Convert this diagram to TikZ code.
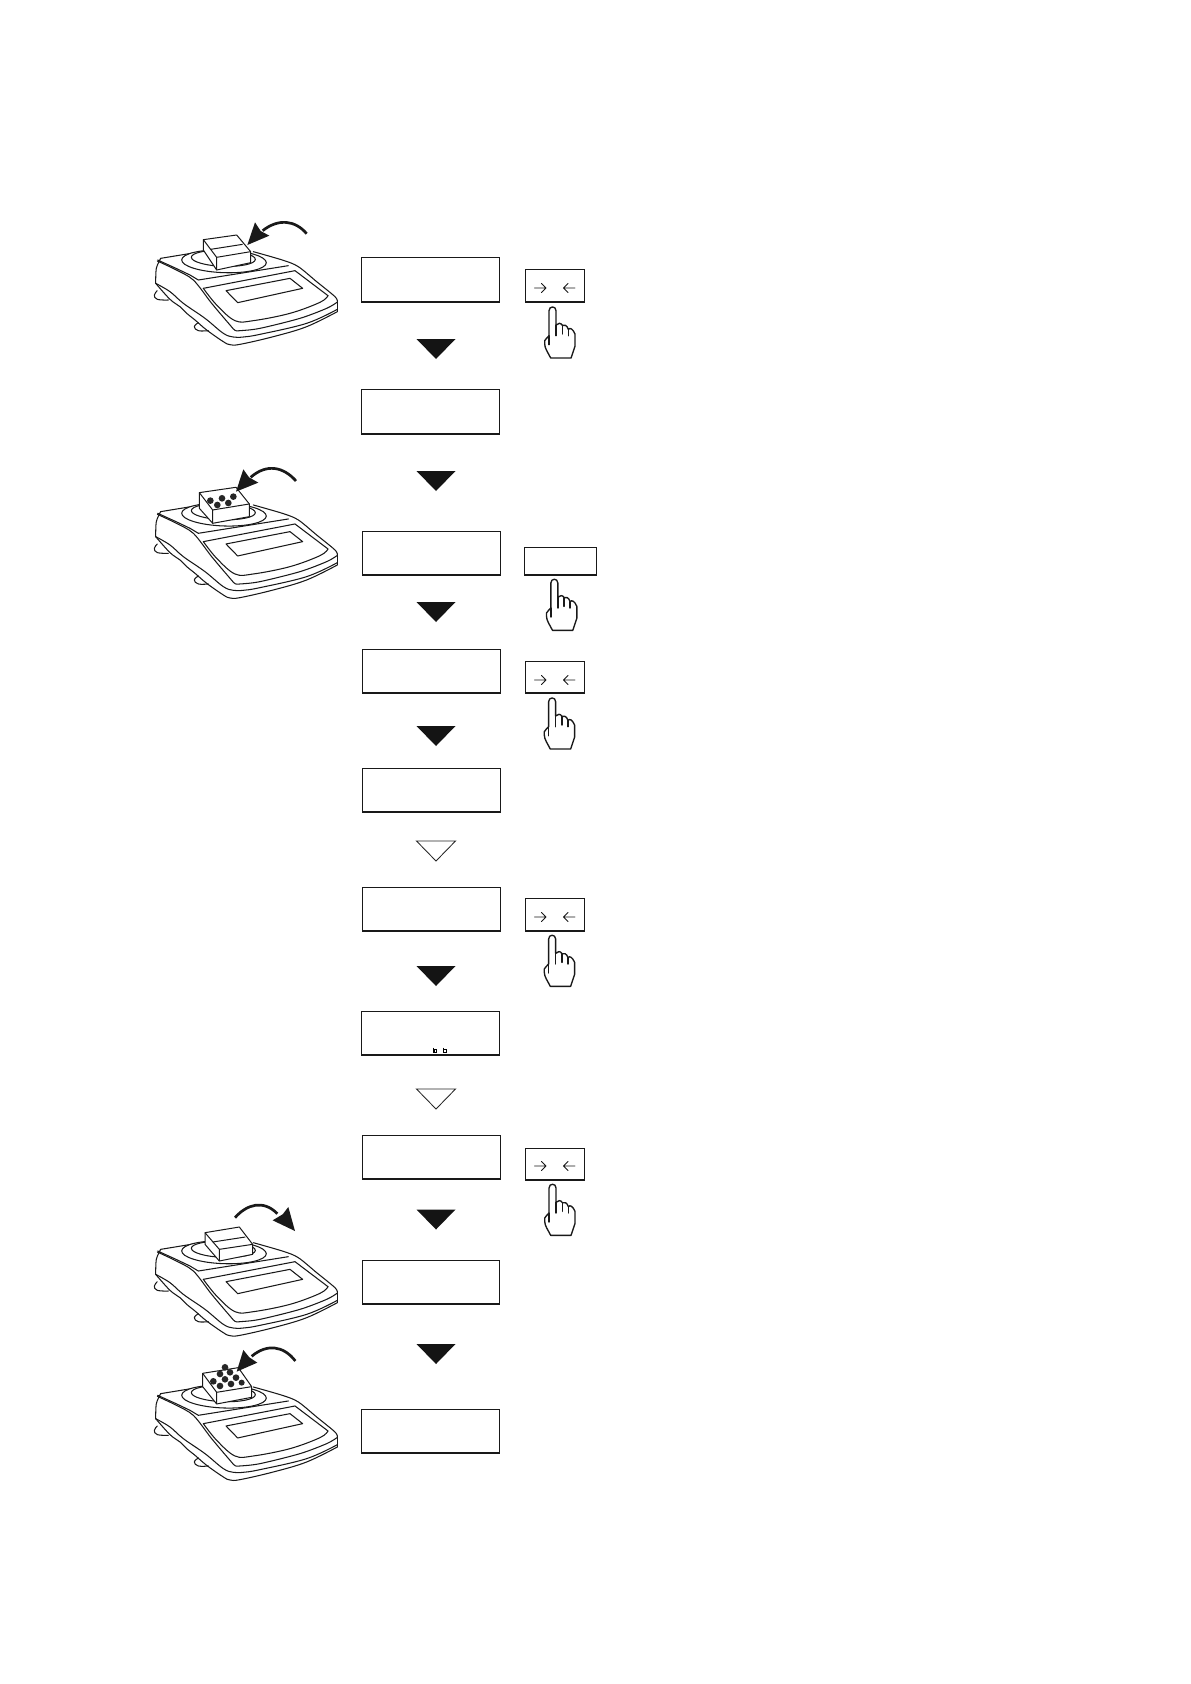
\documentclass[tikz,border=0pt]{standalone}
\tikzset{
  disp/.style={draw=black!90,line width=1.1pt,fill=white,inner sep=0pt,minimum width=137.9pt,minimum height=43.9pt},
  keybox/.style={draw=black!90,line width=1.1pt,fill=white,inner sep=0pt},
  body/.style={draw=black!90,line width=1.05pt,line join=round,line cap=round},
  boxline/.style={draw=black!90,line width=1pt,fill=white,line join=round},
  solidtri/.style={fill=black!92,draw=none},
  opentri/.style={draw=black!85,line width=0.85pt,fill=white},
  handline/.style={draw=black!90,line width=1.35pt,line join=round,line cap=round,fill=white},
  keyarrow/.style={draw=black!90,line width=0.95pt,line cap=round,line join=round},
  curvearrow/.style={draw=black!90,line width=2.7pt,line cap=butt},
  ball/.style={fill=black!85,draw=none}
}
\newcommand{\BalanceAt}[1]{%
\begin{scope}[shift={(140,#1)},x=0.33333pt,y=-0.33333pt]
  % feet
  \draw[body] plot[smooth,tension=0.7] coordinates {(52,272)(43,285)(52,298)(85,300)};
  \draw[body] plot[smooth,tension=0.7] coordinates {(175,368)(163,380)(175,392)(205,392)};
  % outline
  \draw[body] plot[smooth,tension=0.5] coordinates {(47,250)(49,205)(62,175)};
  \draw[body] (62,175) -- (190,154);
  \draw[body] plot[smooth,tension=0.5] coordinates {(340,155)(430,181)(475,200)(530,245)(585,290)(592,305)};
  \draw[body] (592,305) -- (592,335);
  \draw[body] plot[smooth,tension=0.6] coordinates {(592,335)(500,380)(400,410)(300,433)(270,434)(250,425)(200,390)(165,360)(140,340)(120,320)(90,298)(47,250)};
  % side lines
  \draw[body] plot[smooth,tension=0.6] coordinates {(47,250)(90,275)(130,310)(195,355)(250,400)(280,411)(310,411)(360,403)(500,370)(592,328)};
  \draw[body] plot[smooth,tension=0.5] coordinates {(52,183)(105,208)(160,240)(215,310)(270,375)(285,391)(300,392)(360,385)(480,355)(560,325)(591,307)};
  \draw[body] (53,180) -- (108,205) -- (150,225) -- (175,240) -- (445,197);
  % panel
  \draw[body] (190,265) -- (465,212) -- (564,287);
  \draw[body] plot[smooth,tension=0.6] coordinates {(190,265)(230,315)(285,362)(340,362)(450,340)(540,307)(564,287)};
  % window
  \draw[body] (258,272) -- (450,235) -- (488,265) -- (293,308) -- cycle;
  % pan
  \draw[body,fill=white,rotate around={-2:(252,184)}] (252,184) ellipse [x radius=127,y radius=34];
  \draw[body,rotate around={-2:(250,175)}] (250,175) ellipse [x radius=96,y radius=24];
\end{scope}}
\newcommand{\HandAt}[2]{%
\begin{scope}[shift={(#1,#2)},x=0.33333pt,y=-0.33333pt]
  \draw[handline] (-11,87) -- (-11,12) .. controls (-11,-3) and (10,-3) .. (10,12) -- (10,55)
    .. controls (16,49) and (24,47) .. (29,56)
    .. controls (34,53) and (43,55) .. (47,68)
    .. controls (52,62) and (60,66) .. (67,82) -- (67,118) -- (55,154) -- (-6,154)
    .. controls (-14,138) and (-24,125) .. (-24,112) -- (-24,102) .. controls (-22,97) and (-15,92) .. (-11,87) -- cycle;
  \draw[handline,fill=none] (-11,87) -- (-11,114);
  \draw[handline,fill=none] (10,55) -- (10,87);
  \draw[handline,fill=none] (29,56) -- (29,82);
  \draw[handline,fill=none] (47,68) -- (47,87);
\end{scope}}
\newcommand{\KeyArrows}[1]{%
  \draw[keyarrow] (534.5,#1) -- (546,#1) (541.5,#1-4.5) -- (546,#1) -- (541.5,#1+4.5);
  \draw[keyarrow] (575,#1) -- (563.5,#1) (568,#1-4.5) -- (563.5,#1) -- (568,#1+4.5);}
\newcommand{\SolidTri}[1]{\fill[solidtri] (416.5,#1) -- (455.5,#1) -- (436,#1+20) -- cycle;}
\newcommand{\OpenTri}[1]{\draw[opentri] (416.5,#1) -- (455.5,#1) -- (436,#1+20) -- cycle;}
\begin{document}
\begin{tikzpicture}[x=1pt,y=-1pt]
\useasboundingbox (0,0) rectangle (1191,1684);
\fill[white] (0,0) rectangle (1191,1684);

% displays
\node[disp,minimum height=44.9pt] (d1) at (430.5,279.5) {};
\node[disp,minimum height=44.9pt] (d2) at (430.5,411.5) {};
\node[disp] (d3) at (431.5,553) {};
\node[disp] (d4) at (431.5,671) {};
\node[disp] (d5) at (431.5,790) {};
\node[disp] (d6) at (431.5,909) {};
\node[disp] (d7) at (430.5,1033) {};
\node[disp] (d8) at (431.5,1157) {};
\node[disp,minimum width=136.9pt] (d9) at (431,1282) {};
\node[disp] (d10) at (430.5,1431) {};

% flow triangles
\SolidTri{339}
\SolidTri{471}
\SolidTri{602}
\SolidTri{726}
\OpenTri{841}
\SolidTri{966}
\OpenTri{1089}
\SolidTri{1209.5}
\SolidTri{1344}

% keys
\node[keybox,minimum width=58.9pt,minimum height=32.9pt] (k1) at (555,285.5) {};
\node[keybox,minimum width=71.9pt,minimum height=27.9pt] (k2) at (560.5,561) {};
\node[keybox,minimum width=58.9pt,minimum height=31.9pt] (k3) at (555,677) {};
\node[keybox,minimum width=58.9pt,minimum height=32.9pt] (k4) at (555,914.5) {};
\node[keybox,minimum width=58.9pt,minimum height=31.9pt] (k5) at (555,1164) {};
\KeyArrows{288}
\KeyArrows{680}
\KeyArrows{917}
\KeyArrows{1166}

% hands
\HandAt{552.7}{306.7}
\HandAt{554.5}{579}
\HandAt{552.3}{697.7}
\HandAt{552.3}{935}
\HandAt{552.7}{1184}

% marks in display 7
\draw[black,line width=0.8pt] (433.5,1047.5) -- (433.5,1052.5) (434.3,1049.8) rectangle (436.6,1052.8);
\draw[black,line width=0.8pt] (443.5,1047.5) -- (443.5,1052.8) -- (446,1052.8) -- (446,1049.8) -- (443.5,1049.8);

% balance 1
\BalanceAt{200}
\begin{scope}[shift={(140,200)},x=0.33333pt,y=-0.33333pt]
  \draw[boxline] (190,119) -- (290,105) -- (332,155) -- (332,188) -- (230,210) -- (190,150) -- cycle;
  \draw[boxline,fill=none] (190,119) -- (230,172) -- (332,155) (230,172) -- (230,210);
  \draw[boxline,fill=none] (212,148) -- (308,133);
  \draw[curvearrow] (500,101) .. controls (465,60) and (415,55) .. (368,92);
  \fill[black!90] (322,135) -- (345,67) -- (362,93) -- (388,107) -- cycle;
\end{scope}

% balance 2
\BalanceAt{453.3}
\begin{scope}[shift={(140,453.3)},x=0.33333pt,y=-0.33333pt]
  \draw[boxline] (178,118) -- (288,102) -- (328,152) -- (328,190) -- (218,210) -- (178,165) -- cycle;
  \draw[boxline,fill=none] (178,118) -- (218,170) -- (328,152) (218,170) -- (218,210);
  \fill[ball] (211,142) circle (10) (246,135) circle (10) (280,130) circle (10) (232,155) circle (10) (265,149) circle (10);
  \draw[curvearrow] (468,83) .. controls (430,40) and (380,30) .. (332,72);
  \fill[black!90] (288,115) -- (310,48) -- (327,72) -- (355,88) -- cycle;
\end{scope}

% balance 3
\BalanceAt{1191}
\begin{scope}[shift={(140,1191)},x=0.33333pt,y=-0.33333pt]
  \draw[boxline] (195,125) -- (298,108) -- (338,160) -- (338,190) -- (238,210) -- (195,160) -- cycle;
  \draw[boxline,fill=none] (195,125) -- (238,175) -- (338,160) (238,175) -- (238,210);
  \draw[boxline,fill=none] (218,153) -- (316,138);
  \draw[curvearrow] (285,80) .. controls (320,40) and (370,25) .. (412,68);
  \fill[black!90] (465,120) -- (445,48) -- (428,70) -- (398,88) -- cycle;
\end{scope}

% balance 4
\BalanceAt{1335.3}
\begin{scope}[shift={(140,1335.3)},x=0.33333pt,y=-0.33333pt]
  \draw[boxline] (188,114) -- (295,97) -- (335,154) -- (335,186) -- (230,206) -- (188,154) -- cycle;
  \draw[boxline,fill=none] (188,114) -- (230,171) -- (335,154) (230,171) -- (230,206);
  \fill[ball] (255,96) circle (10) (240,116) circle (10) (270,111) circle (10) (220,138) circle (10) (255,132) circle (10) (288,127) circle (10) (240,152) circle (10) (273,146) circle (10) (305,142) circle (9);
  \draw[curvearrow] (466,77) .. controls (430,30) and (380,25) .. (335,63);
  \fill[black!90] (290,109) -- (310,44) -- (328,66) -- (352,82) -- cycle;
\end{scope}
\end{tikzpicture}
\end{document}
